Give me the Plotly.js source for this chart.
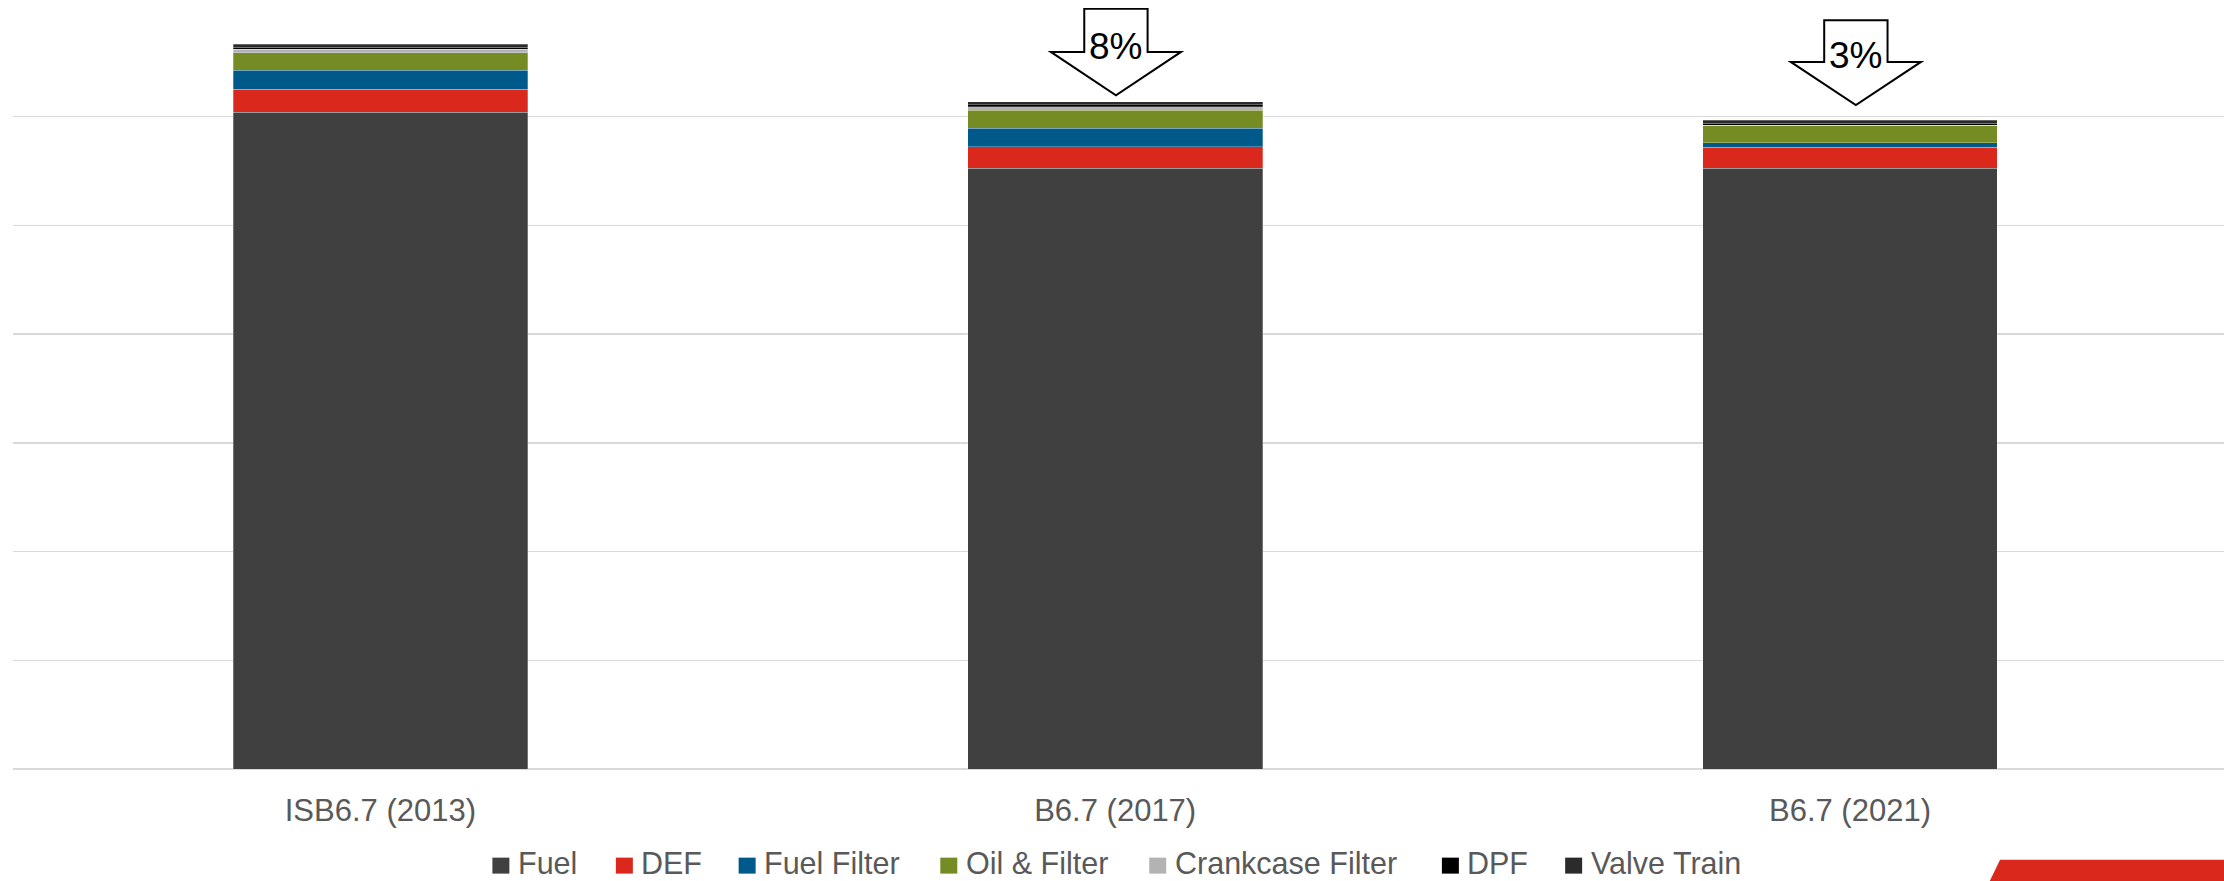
<!DOCTYPE html>
<html>
<head>
<meta charset="utf-8">
<script src="https://cdn.plot.ly/plotly-3.0.1.min.js"></script>
<style>
  html, body { margin: 0; padding: 0; background: #ffffff; }
  #chart { width: 2224px; height: 881px; }
</style>
</head>
<body>
<div id="chart"></div>
<script>
// ---- Data (y in gridline units) ----
const categories = ["ISB6.7 (2013)", "B6.7 (2017)", "B6.7 (2021)"];
const fuel            = [6.04, 5.524, 5.524];
const def             = [0.214, 0.198, 0.196];
const fuelFilter      = [0.172, 0.170, 0.040];
const oilFilter       = [0.161, 0.168, 0.156];
const crankcaseFilter = [0.032, 0.030, 0.006];
const dpf             = [0.018, 0.020, 0.020];
const valveTrain      = [0.028, 0.026, 0.024];

// reduction callouts
const callLabels = ["8%", "3%"];
const callCat    = [1, 2];

const seriesNames  = ["Fuel", "DEF", "Fuel Filter", "Oil & Filter", "Crankcase Filter", "DPF", "Valve Train"];
const seriesValues = [fuel, def, fuelFilter, oilFilter, crankcaseFilter, dpf, valveTrain];
const seriesColors = ["#404040", "#DA291C", "#00598B", "#758B23", "#B3B3B3", "#000000", "#2B2B2B"];

const xPos = categories.map((c, i) => i);

const traces = seriesNames.map((name, k) => ({
  type: "bar",
  name: name,
  x: xPos,
  y: seriesValues[k],
  marker: { color: seriesColors[k], line: { width: 0.6, color: "rgba(255,255,255,0.45)" } },
  hoverinfo: "skip",
  showlegend: false
}));

// ---- Layout geometry ----
const W = 2224, H = 881;
const margin = { l: 12.5, r: 0, t: 7.7, b: 111.7, pad: 0, autoexpand: false };
const plotW = W - margin.l - margin.r;
const plotH = H - margin.t - margin.b;
const xRange = [-0.5, 2.509];
const yRange = [0, 7];
const pxToPaperX = px => (px - margin.l) / plotW;
const pxToPaperY = py => (H - margin.b - py) / plotH;

// arrow shapes (data coords): top, head base, tip
const arrowTop  = [6.994, 6.887];
const arrowBase = [6.596, 6.504];
const arrowTip  = [6.197, 6.107];
const arrowDx   = [0.001, 0.008];
const shaftHalf = 0.0431, headHalf = 0.0886;
const textY     = [6.65, 6.565];

const FONT = "Liberation Sans, Arial, sans-serif";
const shapes = [];
const annotations = [];
callCat.forEach((c, i) => {
  const cx = c + arrowDx[i];
  const p = `M${cx - shaftHalf},${arrowTop[i]} L${cx + shaftHalf},${arrowTop[i]} L${cx + shaftHalf},${arrowBase[i]} ` +
            `L${cx + headHalf},${arrowBase[i]} L${cx},${arrowTip[i]} L${cx - headHalf},${arrowBase[i]} ` +
            `L${cx - shaftHalf},${arrowBase[i]} Z`;
  shapes.push({ type: "path", xref: "x", yref: "y", path: p,
    fillcolor: "#ffffff", line: { color: "#000000", width: 2 }, layer: "above" });
  annotations.push({ xref: "x", yref: "y", x: cx - 0.001, y: textY[i], text: callLabels[i],
    showarrow: false, xanchor: "center", yanchor: "middle",
    font: { family: FONT, size: 37, color: "#000000" } });
});

// legend (drawn to match the reference's larger square swatches)
const legendSwatchLeft = [492, 615.5, 738.3, 940, 1149, 1441.7, 1565];
const swW = 17, swTop = 858, swBottom = 874, legendTextY = 863.5, textOffset = 24.5;
seriesNames.forEach((name, k) => {
  const x0 = legendSwatchLeft[k];
  shapes.push({ type: "rect", xref: "paper", yref: "paper",
    x0: pxToPaperX(x0), x1: pxToPaperX(x0 + swW), y0: pxToPaperY(swBottom), y1: pxToPaperY(swTop),
    fillcolor: seriesColors[k], line: { width: 0 } });
  annotations.push({ xref: "paper", yref: "paper", x: pxToPaperX(x0 + textOffset), y: pxToPaperY(legendTextY),
    text: name, showarrow: false, xanchor: "left", yanchor: "middle", borderpad: 0,
    font: { family: FONT, size: 30.5, color: "#595959" } });
});

// red corner band at bottom right
const rp = `M${pxToPaperX(2000)},${pxToPaperY(860)} L${pxToPaperX(2230)},${pxToPaperY(860)} ` +
           `L${pxToPaperX(2230)},${pxToPaperY(885)} L${pxToPaperX(1988)},${pxToPaperY(885)} Z`;
shapes.push({ type: "path", xref: "paper", yref: "paper", path: rp,
  fillcolor: "#DA291C", line: { width: 0 }, layer: "above" });

const layout = {
  width: W, height: H,
  margin: margin,
  paper_bgcolor: "#ffffff",
  plot_bgcolor: "#ffffff",
  barmode: "stack",
  bargap: 0.599,
  font: { family: FONT, color: "#595959" },
  xaxis: {
    range: xRange,
    tickmode: "array",
    tickvals: xPos,
    ticktext: categories,
    showgrid: false,
    zeroline: false,
    showline: false,
    ticks: "",
    ticklabelstandoff: 20,
    tickfont: { size: 31, color: "#595959" },
    fixedrange: true,
    automargin: false
  },
  yaxis: {
    range: yRange,
    dtick: 1,
    showgrid: true,
    gridcolor: "#D9D9D9",
    gridwidth: 1.5,
    zeroline: true,
    zerolinecolor: "#D9D9D9",
    zerolinewidth: 1.5,
    showticklabels: false,
    ticks: "",
    fixedrange: true,
    automargin: false
  },
  showlegend: false,
  shapes: shapes,
  annotations: annotations
};

Plotly.newPlot("chart", traces, layout, { displayModeBar: false, staticPlot: true });
</script>
</body>
</html>
